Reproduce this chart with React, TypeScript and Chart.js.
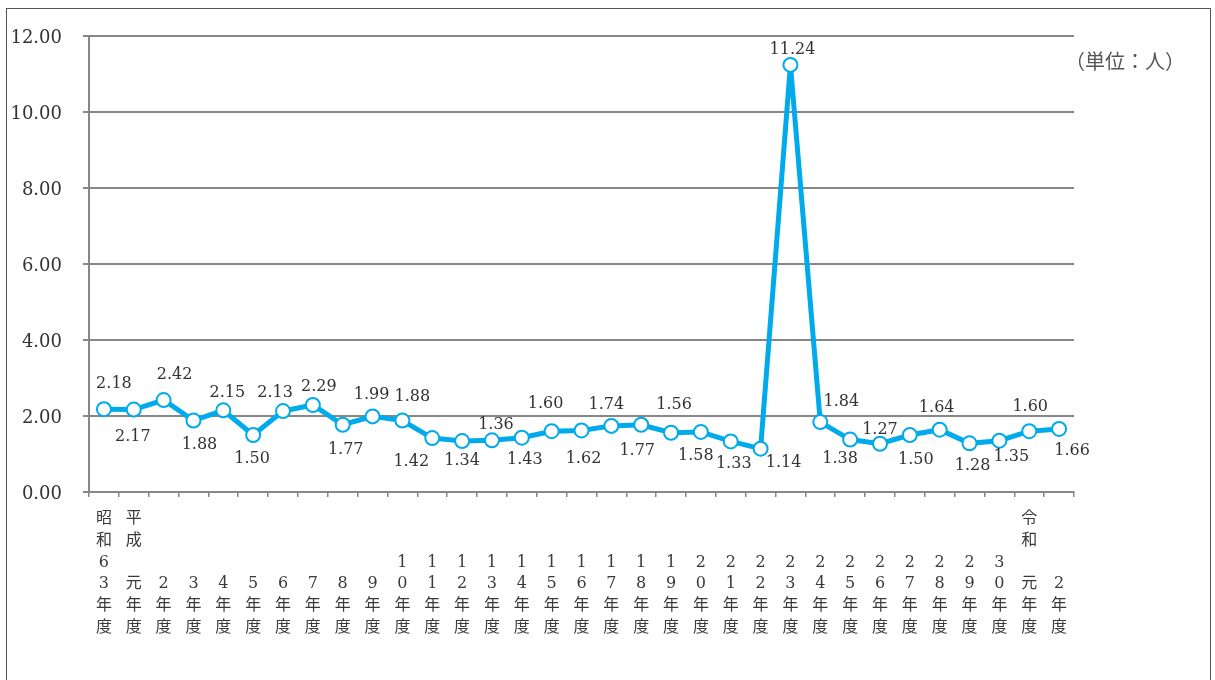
import React, { useEffect, useRef } from "react";
import { Chart, registerables } from "chart.js";

Chart.register(...registerables);

const categories: string[] = [
  "昭和63年度", "平成元年度", "2年度", "3年度", "4年度", "5年度", "6年度", "7年度",
  "8年度", "9年度", "10年度", "11年度", "12年度", "13年度", "14年度", "15年度",
  "16年度", "17年度", "18年度", "19年度", "20年度", "21年度", "22年度", "23年度",
  "24年度", "25年度", "26年度", "27年度", "28年度", "29年度", "30年度", "令和元年度", "2年度",
];

const values: number[] = [
  2.18, 2.17, 2.42, 1.88, 2.15, 1.50, 2.13, 2.29, 1.77, 1.99, 1.88,
  1.42, 1.34, 1.36, 1.43, 1.60, 1.62, 1.74, 1.77, 1.56, 1.58, 1.33,
  1.14, 11.24, 1.84, 1.38, 1.27, 1.50, 1.64, 1.28, 1.35, 1.60, 1.66,
];

const yTicks: number[] = [0, 2, 4, 6, 8, 10, 12];

const unitLabel = "（単位：人）";

// label placement relative to each point (dx, dy in px) — styling only
const labelOffsets: [number, number][] = [
  [10, -25], [-1, 27], [11, -25], [6, 24], [4, -17], [-1, 24], [-8, -18], [6, -18],
  [3, 25], [-1, -22], [10, -24], [-21, 24], [0, 20], [4, -15], [3, 22], [-6, -27],
  [2, 28], [-5, -21], [-4, 26], [3, -28], [-5, 24], [3, 22], [23, 14], [2, -15],
  [21, -20], [-10, 19], [0, -14], [6, 25], [-3, -22], [3, 22], [12, 16], [1, -24], [13, 22],
];

const LINE_COLOR = "rgb(0, 170, 235)";
const GRID_COLOR = "#878787";
const SERIF = "'DejaVu Serif', 'Noto Sans CJK JP', serif";

function toLines(cat: string): string[] {
  const m = cat.match(/^([^\d元]{2})?(.+)年度$/);
  const era = (m && m[1]) || "";
  const num = (m && m[2]) || "";
  const n = num.length === 1 ? [" ", num] : num.split("");
  return [era[0] || " ", era[1] || " ", n[0], n[1], "年", "度"];
}

const valueLabelPlugin = {
  id: "valueLabels",
  afterDatasetsDraw(chart: any) {
    const ctx = chart.ctx;
    const meta = chart.getDatasetMeta(0);
    ctx.save();
    ctx.font = `16px ${SERIF}`;
    ctx.textAlign = "center";
    ctx.textBaseline = "middle";
    ctx.fillStyle = "#333";
    meta.data.forEach((pt: any, i: number) => {
      const [dx, dy] = labelOffsets[i] || [0, -20];
      ctx.fillText(values[i].toFixed(2), pt.x + dx, pt.y + dy);
    });
    ctx.font = "20px 'Noto Sans CJK JP', sans-serif";
    ctx.textAlign = "left";
    ctx.fillStyle = "#555";
    ctx.fillText(unitLabel, chart.chartArea.right - 9, chart.chartArea.top + 25);
    ctx.restore();
  },
};

export default function App() {
  const canvasRef = useRef<HTMLCanvasElement | null>(null);

  useEffect(() => {
    if (!canvasRef.current) return;
    const chart = new Chart(canvasRef.current, {
      type: "line",
      data: {
        labels: categories.map(toLines),
        datasets: [
          {
            data: values,
            borderColor: LINE_COLOR,
            borderWidth: 5,
            tension: 0,
            pointRadius: 7,
            pointHoverRadius: 7,
            pointBorderWidth: 2,
            pointBackgroundColor: "#ffffff",
            pointBorderColor: LINE_COLOR,
          },
        ],
      },
      options: {
        animation: false,
        responsive: true,
        maintainAspectRatio: false,
        layout: { padding: { left: 0, top: 36, right: 141, bottom: 0 } },
        plugins: {
          legend: { display: false },
          tooltip: { enabled: false },
          title: { display: false },
        },
        scales: {
          x: {
            type: "category",
            offset: true,
            grid: {
              offset: true,
              drawOnChartArea: false,
              drawTicks: true,
              tickLength: 5,
              color: GRID_COLOR,
              lineWidth: 1.5,
            },
            border: { display: true, color: GRID_COLOR, width: 2 },
            ticks: {
              autoSkip: false,
              maxRotation: 0,
              minRotation: 0,
              padding: 11,
              color: "#3a3a3a",
              font: { family: SERIF, size: 16, lineHeight: 1.36 },
            },
            afterFit: (s: any) => {
              s.height = 188;
            },
          },
          y: {
            min: 0,
            max: 12,
            afterBuildTicks: (s: any) => {
              s.ticks = yTicks.map((v) => ({ value: v }));
            },
            ticks: {
              padding: 21,
              labelOffset: 2,
              color: "#333",
              font: { family: SERIF, size: 18 },
              callback: (v: any) => Number(v).toFixed(2),
            },
            grid: {
              color: GRID_COLOR,
              lineWidth: 2,
              tickLength: 6,
              drawTicks: true,
            },
            border: { display: true, color: GRID_COLOR, width: 2 },
            afterFit: (s: any) => {
              s.width = 89;
            },
          },
        },
      },
      plugins: [valueLabelPlugin],
    });
    return () => chart.destroy();
  }, []);

  return (
    <div style={{ position: "absolute", left: 0, top: 0, width: 1215, height: 680, background: "#fff", overflow: "hidden" }}>
      <div
        style={{
          position: "absolute",
          left: 6,
          top: 8,
          width: 1205,
          height: 700,
          border: "1px solid #555",
          boxSizing: "border-box",
          pointerEvents: "none",
        }}
      />
      <div style={{ position: "absolute", left: 0, top: 0, width: 1215, height: 680 }}>
        <canvas ref={canvasRef} />
      </div>
    </div>
  );
}
